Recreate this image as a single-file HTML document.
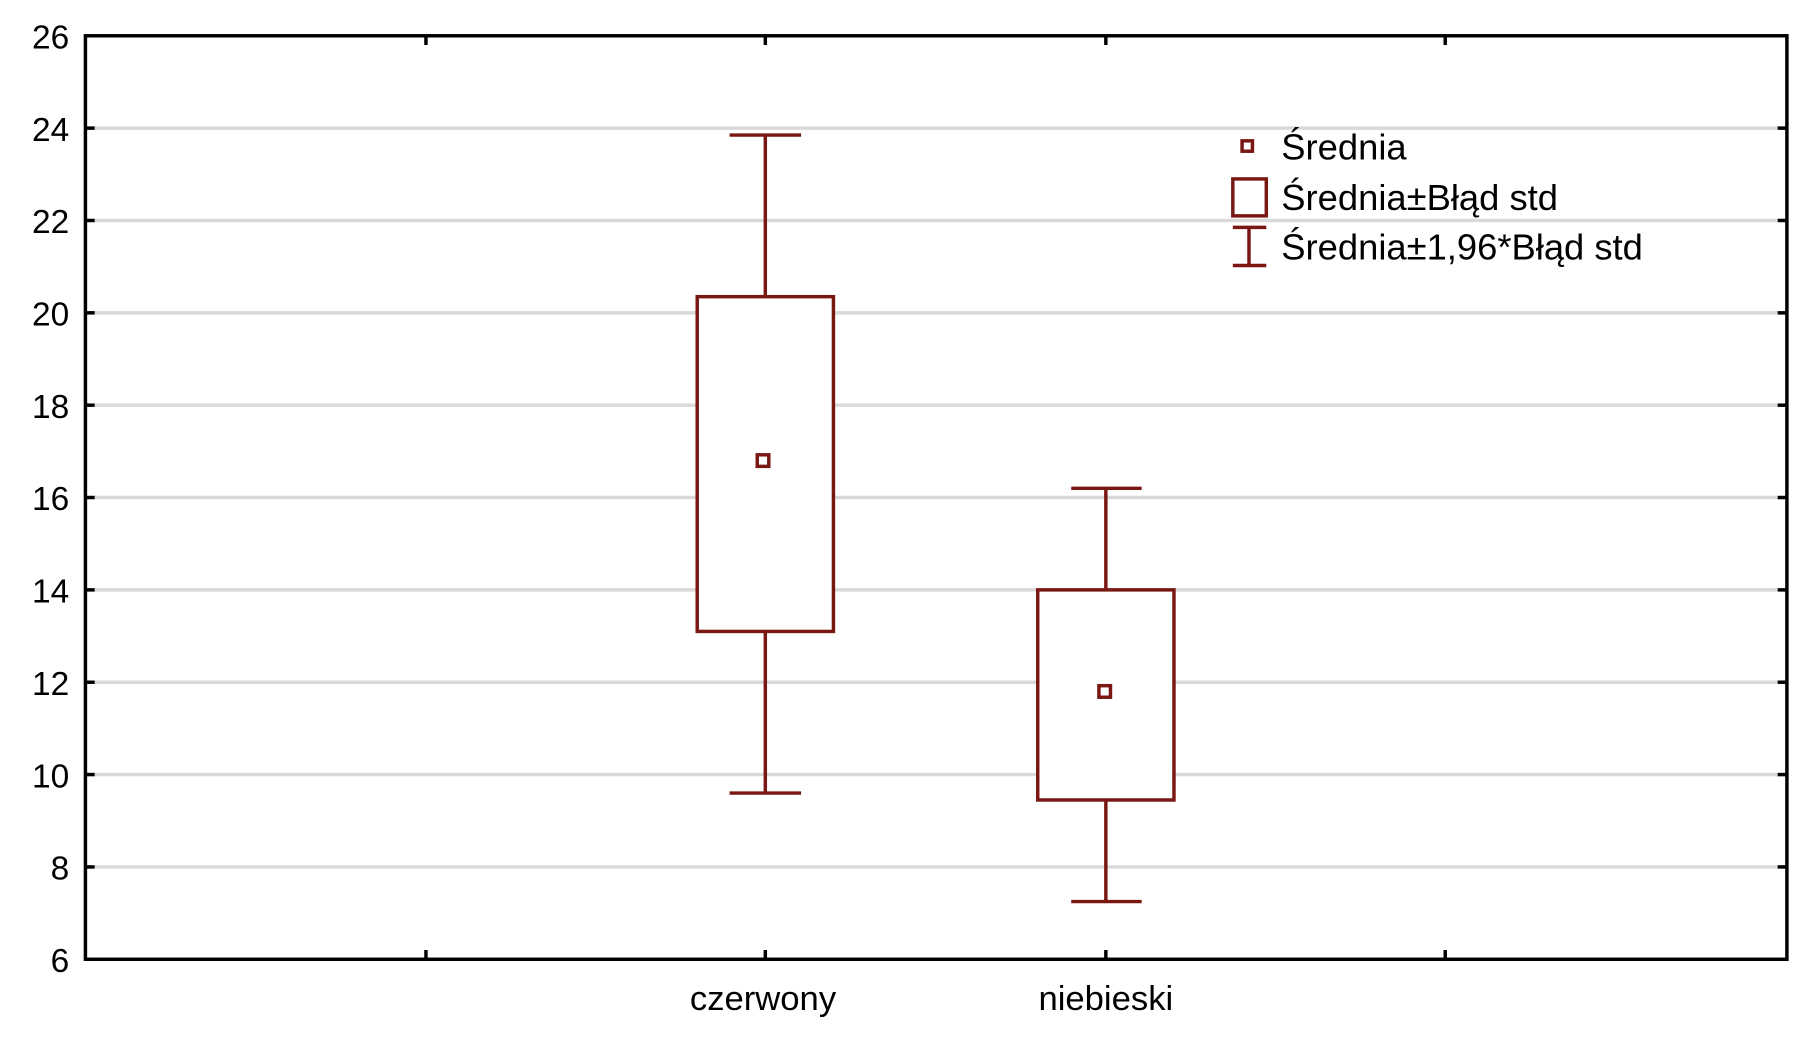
<!DOCTYPE html>
<html><head><meta charset="utf-8"><style>
html,body{margin:0;padding:0;background:#fff;}
svg{display:block;}
text{font-family:"Liberation Sans",sans-serif;fill:#000;}
</style></head><body>
<svg width="1810" height="1038" viewBox="0 0 1568 899.2" preserveAspectRatio="none">
<g stroke="#d9d9d9" stroke-width="3">
<line x1="74" x2="1548" y1="111" y2="111"/><line x1="74" x2="1548" y1="191" y2="191"/>
<line x1="74" x2="1548" y1="271" y2="271"/><line x1="74" x2="1548" y1="351" y2="351"/>
<line x1="74" x2="1548" y1="431" y2="431"/><line x1="74" x2="1548" y1="511" y2="511"/>
<line x1="74" x2="1548" y1="591" y2="591"/><line x1="74" x2="1548" y1="671" y2="671"/>
<line x1="74" x2="1548" y1="751" y2="751"/>
</g>
<rect x="74" y="31" width="1474" height="800" fill="none" stroke="#000" stroke-width="3"/>
<g stroke="#000" stroke-width="3">
<line x1="74" x2="82" y1="111" y2="111"/><line x1="74" x2="82" y1="191" y2="191"/><line x1="74" x2="82" y1="271" y2="271"/><line x1="74" x2="82" y1="351" y2="351"/><line x1="74" x2="82" y1="431" y2="431"/><line x1="74" x2="82" y1="511" y2="511"/><line x1="74" x2="82" y1="591" y2="591"/><line x1="74" x2="82" y1="671" y2="671"/><line x1="74" x2="82" y1="751" y2="751"/>
<line x1="1540" x2="1548" y1="111" y2="111"/><line x1="1540" x2="1548" y1="191" y2="191"/><line x1="1540" x2="1548" y1="271" y2="271"/><line x1="1540" x2="1548" y1="351" y2="351"/><line x1="1540" x2="1548" y1="431" y2="431"/><line x1="1540" x2="1548" y1="511" y2="511"/><line x1="1540" x2="1548" y1="591" y2="591"/><line x1="1540" x2="1548" y1="671" y2="671"/><line x1="1540" x2="1548" y1="751" y2="751"/>
<line x1="369" x2="369" y1="823" y2="831"/><line x1="663" x2="663" y1="823" y2="831"/><line x1="958" x2="958" y1="823" y2="831"/><line x1="1252" x2="1252" y1="823" y2="831"/>
<line x1="369" x2="369" y1="31" y2="39"/><line x1="663" x2="663" y1="31" y2="39"/><line x1="958" x2="958" y1="31" y2="39"/><line x1="1252" x2="1252" y1="31" y2="39"/>
</g>
<g font-size="29" text-anchor="end">
<text x="60" y="42">26</text><text x="60" y="122">24</text><text x="60" y="202">22</text><text x="60" y="282">20</text><text x="60" y="362">18</text><text x="60" y="442">16</text><text x="60" y="522">14</text><text x="60" y="602">12</text><text x="60" y="682">10</text><text x="60" y="762">8</text><text x="60" y="842">6</text>
</g>
<g font-size="30" text-anchor="middle">
<text x="661" y="875">czerwony</text><text x="958" y="875">niebieski</text>
</g>
<g stroke="#7a1712" stroke-width="3" fill="#fff">
<line x1="663" x2="663" y1="117" y2="687"/>
<line x1="632" x2="694" y1="117" y2="117"/><line x1="632" x2="694" y1="687" y2="687"/>
<rect x="604" y="257" width="118" height="290"/>
<rect x="656" y="394" width="10" height="10"/>
<line x1="958" x2="958" y1="423" y2="781"/>
<line x1="928" x2="989" y1="423" y2="423"/><line x1="928" x2="989" y1="781" y2="781"/>
<rect x="899" y="511" width="118" height="182"/>
<rect x="952" y="594" width="10" height="10"/>
<rect x="1076" y="122" width="9" height="9"/>
<rect x="1068" y="155" width="29" height="32"/>
<line x1="1082" x2="1082" y1="197" y2="230"/>
<line x1="1068" x2="1097" y1="197" y2="197"/><line x1="1068" x2="1097" y1="230" y2="230"/>
</g>
<g font-size="31.5">
<text x="1110" y="138">Średnia</text>
<text x="1110" y="182">Średnia±Błąd std</text>
<text x="1110" y="225">Średnia±1,96*Błąd std</text>
</g>
</svg>
</body></html>
